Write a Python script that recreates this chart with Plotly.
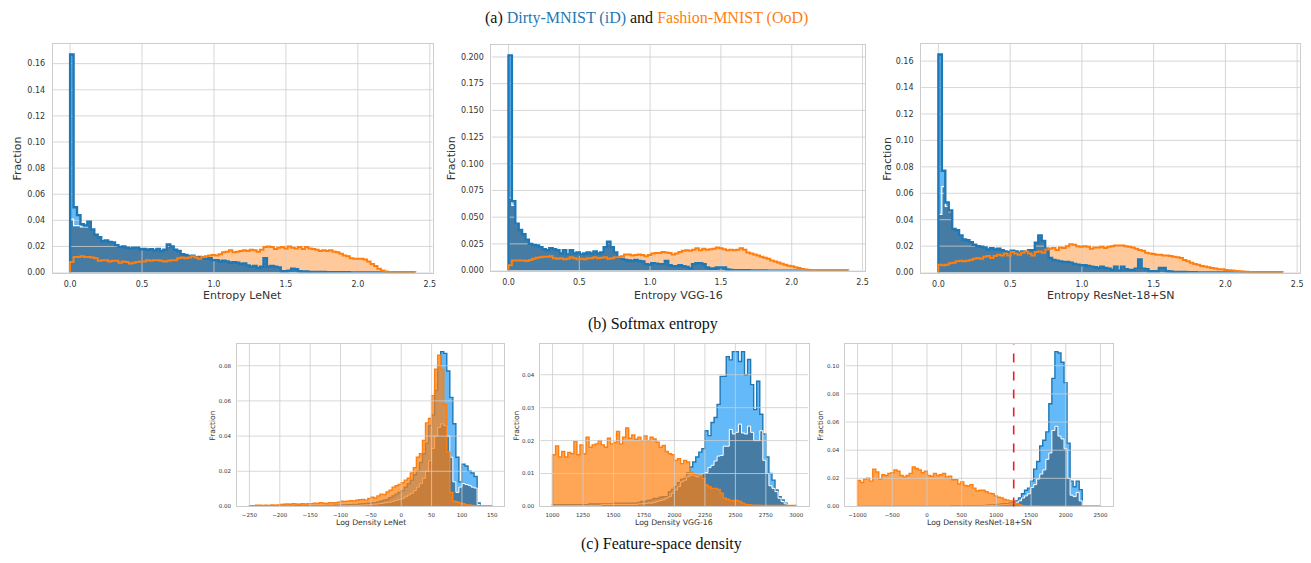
import plotly.graph_objects as go

W, H = 1311, 563

# ---------------- data: softmax entropy (bins of 0.024 from 0) ----------------
ent_start, ent_width = 0.0, 0.024

lenet_ent_id = [0.167, 0.050, 0.044, 0.037, 0.036, 0.039, 0.033, 0.029, 0.027, 0.024,
                0.0245, 0.0235, 0.023, 0.021, 0.0195, 0.020, 0.019, 0.0185, 0.019, 0.019,
                0.0178, 0.018, 0.0175, 0.0178, 0.017, 0.018, 0.0165, 0.0175, 0.0215, 0.020,
                0.0175, 0.0165, 0.014, 0.0135, 0.0125, 0.013, 0.0115, 0.012, 0.011, 0.0105,
                0.011, 0.0095, 0.0095, 0.0085, 0.009, 0.0085, 0.0075, 0.008, 0.0075, 0.0065,
                0.007, 0.0055, 0.0045, 0.005, 0.0035, 0.0045, 0.011, 0.0045, 0.005, 0.0045,
                0.004, 0.001, 0.001, 0.0015, 0.003, 0.0025, 0.001, 0.0008, 0.0008, 0.0005,
                0.0005, 0.0005, 0.0004, 0.0004, 0.0003, 0.0003, 0.0003, 0.0002, 0.0002, 0.0002,
                0.0002, 0.0001, 0, 0, 0, 0, 0, 0, 0, 0,
                0, 0, 0, 0, 0, 0, 0, 0, 0, 0]
lenet_ent_amb_head = [0.041, 0.036, 0.036, 0.035, 0.035]
lenet_ent_ood = [0.008, 0.012, 0.012, 0.0125, 0.012, 0.012, 0.0115, 0.011, 0.009, 0.0095,
                 0.0095, 0.0085, 0.009, 0.009, 0.0075, 0.0085, 0.008, 0.007, 0.0075, 0.008,
                 0.0085, 0.0085, 0.0095, 0.009, 0.0095, 0.0095, 0.009, 0.0085, 0.009, 0.0095,
                 0.0095, 0.011, 0.0115, 0.011, 0.0115, 0.0125, 0.0115, 0.0105, 0.012, 0.0125,
                 0.013, 0.0135, 0.013, 0.014, 0.0155, 0.016, 0.017, 0.0155, 0.016, 0.0165,
                 0.017, 0.0165, 0.0175, 0.017, 0.016, 0.0175, 0.0195, 0.020, 0.0195, 0.018,
                 0.019, 0.0195, 0.0185, 0.020, 0.019, 0.0185, 0.0195, 0.018, 0.0195, 0.0185,
                 0.018, 0.0175, 0.0165, 0.017, 0.0165, 0.017, 0.016, 0.0155, 0.0145, 0.013,
                 0.0125, 0.011, 0.0105, 0.0105, 0.0105, 0.010, 0.0085, 0.0065, 0.005, 0.003,
                 0.0015, 0.0008, 0.0005, 0.0003, 0.0003, 0.0003, 0.0003, 0.0003, 0.0003, 0.0003]

vgg_ent_id = [0.2015, 0.065, 0.044, 0.038, 0.034, 0.029, 0.025, 0.024, 0.0235, 0.022,
              0.020, 0.019, 0.021, 0.020, 0.019, 0.016, 0.019, 0.015, 0.019, 0.016,
              0.017, 0.015, 0.016, 0.017, 0.016, 0.018, 0.016, 0.017, 0.022, 0.027,
              0.022, 0.017, 0.012, 0.011, 0.010, 0.0095, 0.009, 0.010, 0.009, 0.0085,
              0.006, 0.0055, 0.007, 0.0065, 0.006, 0.006, 0.009, 0.005, 0.004, 0.004,
              0.005, 0.004, 0.0035, 0.002, 0.006, 0.007, 0.007, 0.006, 0.003, 0.002,
              0.002, 0.003, 0.003, 0.003, 0.001, 0.0005, 0.0003, 0.0003, 0.0003, 0.0003,
              0.0003, 0.0002, 0.0002, 0.0002, 0.0002, 0.0001, 0, 0, 0, 0,
              0, 0, 0, 0, 0, 0, 0, 0, 0, 0,
              0, 0, 0, 0, 0, 0, 0, 0, 0, 0]
vgg_ent_amb_head = [0.068, 0.061]
vgg_ent_ood = [0.005, 0.0095, 0.0095, 0.0095, 0.0095, 0.009, 0.010, 0.011, 0.012, 0.0125,
               0.013, 0.013, 0.0135, 0.0115, 0.011, 0.0115, 0.0105, 0.011, 0.0125, 0.0115,
               0.0105, 0.011, 0.0105, 0.0115, 0.0115, 0.0125, 0.0115, 0.012, 0.0125, 0.011,
               0.0115, 0.0125, 0.0125, 0.0135, 0.015, 0.015, 0.014, 0.0145, 0.015, 0.0145,
               0.0135, 0.0145, 0.016, 0.0165, 0.0165, 0.0175, 0.017, 0.0165, 0.015, 0.016,
               0.0175, 0.0185, 0.019, 0.0185, 0.0195, 0.021, 0.019, 0.0205, 0.0195, 0.020,
               0.0205, 0.0215, 0.021, 0.020, 0.019, 0.0195, 0.019, 0.0195, 0.021, 0.0195,
               0.017, 0.016, 0.015, 0.014, 0.013, 0.012, 0.011, 0.0095, 0.0085, 0.0075,
               0.0065, 0.0055, 0.0045, 0.004, 0.003, 0.0025, 0.0015, 0.001, 0.0006, 0.0004,
               0.0003, 0.0003, 0.0003, 0.0003, 0.0003, 0.0003, 0.0003, 0.0003, 0.0003, 0.0003]

resnet_ent_id = [0.165, 0.077, 0.053, 0.047, 0.033, 0.032, 0.028, 0.025, 0.0245, 0.023,
                 0.021, 0.020, 0.0195, 0.019, 0.0175, 0.0185, 0.0175, 0.018, 0.017, 0.016,
                 0.0155, 0.0165, 0.016, 0.015, 0.016, 0.0155, 0.017, 0.017, 0.0225, 0.028,
                 0.024, 0.018, 0.011, 0.0095, 0.009, 0.0085, 0.008, 0.008, 0.0075, 0.0065,
                 0.006, 0.0055, 0.0055, 0.005, 0.0045, 0.004, 0.0035, 0.0045, 0.0035, 0.003,
                 0.002, 0.0045, 0.0015, 0.0045, 0.0025, 0.002, 0.002, 0.003, 0.010, 0.003,
                 0.0025, 0.001, 0.001, 0.001, 0.0035, 0.0035, 0.001, 0.0008, 0.0005, 0.0005,
                 0.0005, 0.0004, 0.0003, 0.0002, 0.0002, 0.0001, 0, 0, 0, 0,
                 0, 0, 0, 0, 0, 0, 0, 0, 0, 0,
                 0, 0, 0, 0, 0, 0, 0, 0, 0, 0]
resnet_ent_amb_head = [0.044, 0.065, 0.050, 0.046, 0.033]
resnet_ent_ood = [0.006, 0.0055, 0.006, 0.007, 0.0075, 0.0085, 0.009, 0.0085, 0.009, 0.0095,
                  0.0105, 0.011, 0.0105, 0.012, 0.0125, 0.011, 0.0125, 0.0135, 0.013, 0.0145,
                  0.013, 0.0155, 0.0145, 0.0135, 0.015, 0.016, 0.0145, 0.013, 0.0155, 0.016,
                  0.015, 0.0175, 0.018, 0.0185, 0.017, 0.019, 0.0185, 0.020, 0.0215, 0.021,
                  0.020, 0.0195, 0.020, 0.0195, 0.018, 0.019, 0.019, 0.0195, 0.0185, 0.0195,
                  0.020, 0.0205, 0.0205, 0.0205, 0.020, 0.0195, 0.019, 0.018, 0.017, 0.0165,
                  0.015, 0.0145, 0.014, 0.0135, 0.0135, 0.013, 0.013, 0.0125, 0.012, 0.0115,
                  0.011, 0.0095, 0.0085, 0.0075, 0.0065, 0.006, 0.005, 0.0045, 0.004, 0.0035,
                  0.003, 0.0025, 0.0025, 0.002, 0.0018, 0.0015, 0.0012, 0.001, 0.0008, 0.0006,
                  0.0004, 0.0004, 0.0003, 0.0003, 0.0003, 0.0003, 0.0003, 0.0003, 0.0003, 0.0003]

# ---------------- data: feature-space log density ----------------
lenet_ld_start, lenet_ld_width = -250.0, 5.0
lenet_ld_ood = [0.0005, 0.0005, 0.0007, 0.0007, 0.0006, 0.0007, 0.0006, 0.0008, 0.0007, 0.0008,
                0.0012, 0.0013, 0.0014, 0.0013, 0.0015, 0.0014, 0.0013, 0.0015, 0.0014, 0.0016,
                0.0016, 0.0018, 0.0017, 0.0021, 0.0018, 0.0017, 0.0022, 0.0020, 0.0021, 0.0024,
                0.0030, 0.0028, 0.0030, 0.0033, 0.0031, 0.0035, 0.0038, 0.0040, 0.0036, 0.0045,
                0.0052, 0.0048, 0.0060, 0.0070, 0.0068, 0.0082, 0.0092, 0.0110, 0.0118, 0.0125,
                0.0135, 0.0150, 0.0160, 0.0190, 0.0220, 0.0280, 0.0300, 0.0375, 0.0475, 0.0500,
                0.063, 0.078, 0.086, 0.078, 0.058, 0.031, 0.008, 0.003, 0.0025, 0.002,
                0.0015, 0.001, 0.0008, 0.0006, 0.0005, 0.0004, 0.0003, 0.0003, 0.0003, 0.0003]
lenet_ld_id = [0, 0, 0, 0, 0, 0, 0, 0, 0, 0,
               0.0002, 0.0002, 0.0002, 0.0002, 0.0002, 0.0003, 0.0003, 0.0003, 0.0003, 0.0003,
               0.0004, 0.0004, 0.0005, 0.0005, 0.0005, 0.0006, 0.0006, 0.0006, 0.0007, 0.0007,
               0.0008, 0.0008, 0.001, 0.001, 0.0012, 0.0012, 0.0014, 0.0015, 0.0017, 0.0018,
               0.002, 0.0022, 0.0025, 0.003, 0.0035, 0.004, 0.005, 0.006, 0.007, 0.008,
               0.009, 0.011, 0.013, 0.015, 0.018, 0.020, 0.025, 0.030, 0.036, 0.046,
               0.052, 0.066, 0.080, 0.088, 0.087, 0.077, 0.062, 0.047, 0.028, 0.014,
               0.024, 0.023, 0.020, 0.019, 0.017, 0.002, 0, 0, 0, 0]
lenet_ld_amb = [0, 0, 0, 0, 0, 0, 0, 0, 0, 0,
                0, 0, 0, 0, 0, 0, 0, 0, 0, 0,
                0.0002, 0.0002, 0.0002, 0.0002, 0.0002, 0.0002, 0.0002, 0.0002, 0.0002, 0.0002,
                0.0004, 0.0004, 0.0005, 0.0005, 0.0006, 0.0006, 0.0007, 0.0008, 0.0009, 0.001,
                0.0012, 0.0013, 0.0015, 0.0017, 0.002, 0.0022, 0.0025, 0.003, 0.0035, 0.004,
                0.0045, 0.0055, 0.0065, 0.0075, 0.009, 0.011, 0.013, 0.016, 0.020, 0.026,
                0.033, 0.040, 0.045, 0.047, 0.046, 0.040, 0.028, 0.014, 0.008, 0.011,
                0.013, 0.0125, 0.012, 0.011, 0.0105, 0.001, 0, 0, 0, 0]

vgg_ld_start, vgg_ld_width = 1000.0, 25.0
vgg_ld_ood = [0.0157, 0.0184, 0.015, 0.0167, 0.015, 0.0164, 0.016, 0.0197, 0.0157, 0.0187,
              0.016, 0.021, 0.018, 0.0187, 0.019, 0.020, 0.0187, 0.018, 0.0207, 0.019,
              0.0194, 0.0228, 0.019, 0.021, 0.0238, 0.0207, 0.0217, 0.0204, 0.021, 0.020,
              0.0214, 0.020, 0.021, 0.0205, 0.0195, 0.018, 0.0185, 0.0167, 0.016, 0.0157,
              0.014, 0.0145, 0.013, 0.014, 0.0135, 0.0105, 0.0098, 0.0095, 0.0095, 0.0085,
              0.0065, 0.006, 0.0055, 0.0055, 0.0052, 0.004, 0.0026, 0.0022, 0.0018, 0.0018,
              0.0018, 0.0015, 0.001, 0.0006, 0.0005, 0.0004, 0.0004, 0.0004, 0.0003, 0.0003,
              0.0003, 0.0003, 0.0003, 0.0003, 0.0003, 0.0003, 0.0003, 0.0003, 0.0003, 0.0003]
vgg_ld_id = [0.0005, 0.0005, 0.0005, 0.0005, 0.0005, 0.0005, 0.0005, 0.0005, 0.0005, 0.0005,
             0.0005, 0.0005, 0.0008, 0.0008, 0.0008, 0.0008, 0.0008, 0.0008, 0.0008, 0.0008,
             0.001, 0.001, 0.001, 0.001, 0.001, 0.001, 0.001, 0.001, 0.0012, 0.0015,
             0.0015, 0.0018, 0.002, 0.0024, 0.0024, 0.0028, 0.003, 0.003, 0.0045, 0.0052,
             0.006, 0.0072, 0.0082, 0.0085, 0.0102, 0.012, 0.0135, 0.015, 0.0165, 0.0175,
             0.023, 0.0215, 0.0255, 0.027, 0.031, 0.0395, 0.0395, 0.0455, 0.0445, 0.047,
             0.047, 0.044, 0.047, 0.040, 0.0446, 0.037, 0.0294, 0.038, 0.028, 0.022,
             0.015, 0.010, 0.008, 0.005, 0.003, 0.002, 0.001, 0, 0, 0]
vgg_ld_amb = [0.0003, 0.0003, 0.0003, 0.0003, 0.0003, 0.0003, 0.0003, 0.0003, 0.0003, 0.0003,
              0.0003, 0.0003, 0.0003, 0.0003, 0.0003, 0.0003, 0.0006, 0.0006, 0.0006, 0.0006,
              0.0006, 0.0006, 0.0006, 0.0006, 0.0006, 0.0006, 0.0006, 0.0006, 0.0008, 0.0008,
              0.0009, 0.001, 0.001, 0.0012, 0.0015, 0.0018, 0.002, 0.0025, 0.003, 0.004,
              0.005, 0.006, 0.0075, 0.008, 0.009, 0.0095, 0.0095, 0.009, 0.0095, 0.010,
              0.0103, 0.0118, 0.0125, 0.0138, 0.0153, 0.0155, 0.0183, 0.0183, 0.0234, 0.022,
              0.0225, 0.025, 0.0223, 0.022, 0.0244, 0.0225, 0.020, 0.020, 0.023, 0.014,
              0.010, 0.0063, 0.0055, 0.0045, 0.0025, 0.0015, 0.0008, 0, 0, 0]

resnet_ld_start, resnet_ld_width = -1000.0, 43.75
resnet_ld_ood = [0.0185, 0.017, 0.0195, 0.020, 0.018, 0.0265, 0.0245, 0.0195, 0.0225, 0.022,
                 0.0235, 0.024, 0.026, 0.025, 0.022, 0.021, 0.022, 0.0235, 0.028, 0.027,
                 0.026, 0.024, 0.025, 0.022, 0.0215, 0.0235, 0.022, 0.0225, 0.0235, 0.021,
                 0.0215, 0.019, 0.019, 0.016, 0.0175, 0.015, 0.0145, 0.0155, 0.013, 0.011,
                 0.0115, 0.0115, 0.0105, 0.0095, 0.009, 0.0075, 0.0065, 0.006, 0.005, 0.0045,
                 0.004, 0.0035, 0.002, 0.0012, 0.0006, 0.0003, 0.0003, 0.0003, 0.0003, 0.0003,
                 0.0002, 0.0002, 0.0002, 0.0002, 0.0002, 0.0002, 0.0002, 0.0002, 0.0002, 0.0002,
                 0.0002, 0.0002, 0.0002, 0.0002, 0.0002, 0.0002, 0.0002, 0.0002, 0.0002, 0.0002]
resnet_ld_id = [0, 0, 0, 0, 0, 0, 0, 0, 0, 0,
                0, 0, 0, 0, 0, 0, 0, 0, 0, 0,
                0, 0, 0, 0, 0, 0, 0, 0, 0, 0,
                0, 0.0003, 0.0003, 0.0003, 0.0003, 0.0003, 0.0003, 0.0003, 0.0003, 0.0003,
                0.0003, 0.0006, 0.0008, 0.001, 0.001, 0.0012, 0.0015, 0.0018, 0.002, 0.002,
                0.0025, 0.003, 0.004, 0.006, 0.009, 0.0115, 0.013, 0.018, 0.0265, 0.032,
                0.043, 0.047, 0.053, 0.073, 0.091, 0.110, 0.109, 0.1025, 0.088, 0.045,
                0.018, 0.014, 0.018, 0.012, 0, 0, 0, 0, 0, 0]
resnet_ld_amb = [0, 0, 0, 0, 0, 0, 0, 0, 0, 0,
                 0, 0, 0, 0, 0, 0, 0, 0, 0, 0,
                 0, 0, 0, 0, 0, 0, 0, 0, 0, 0,
                 0, 0.0002, 0.0002, 0.0002, 0.0002, 0.0002, 0.0002, 0.0002, 0.0002, 0.0002,
                 0.0002, 0.0004, 0.0005, 0.0006, 0.0007, 0.0008, 0.001, 0.0012, 0.0014, 0.0015,
                 0.0017, 0.002, 0.003, 0.004, 0.006, 0.0075, 0.009, 0.0135, 0.0155, 0.0195,
                 0.023, 0.026, 0.0335, 0.038, 0.054, 0.057, 0.050, 0.048, 0.041, 0.020,
                 0.008, 0.007, 0.010, 0.004, 0, 0, 0, 0, 0, 0]
resnet_threshold = 1250

# ---------------- styling ----------------
BLUE = '#1f77b4'
ORANGE = '#ff7f0e'
LIGHT_BLUE = 'rgb(100,186,248)'
DARK_FILL = 'rgb(70,124,164)'
ORANGE_LIGHT = 'rgb(255,201,156)'
ORANGE_ALPHA = 'rgba(255,127,14,0.70)'
GRID = 'rgba(205,205,205,0.8)'
SANS = 'DejaVu Sans'
SERIF = 'Liberation Serif'

fig = go.Figure()


def step_xy(start, width, vals):
    n = len(vals)
    edges = [start + width * i for i in range(n + 1)]
    xs = [edges[0]] + edges[:n] + [edges[n], edges[n]]
    ys = [0] + list(vals) + [vals[-1], 0]
    return xs, ys


def add_step(k, start, width, vals, line_color, line_width, fill=None):
    xs, ys = step_xy(start, width, vals)
    fig.add_trace(go.Scatter(
        x=xs, y=ys, mode='lines', xaxis='x' + k, yaxis='y' + k,
        line=dict(shape='hv', color=line_color, width=line_width),
        fill='tozeroy' if fill else None, fillcolor=fill,
        hoverinfo='skip', showlegend=False))


def add_grid(k, xticks, yticks, xr, yr):
    gx, gy = [], []
    for v in xticks:
        gx += [v, v, None]
        gy += [yr[0], yr[1], None]
    for v in yticks:
        gx += [xr[0], xr[1], None]
        gy += [v, v, None]
    fig.add_trace(go.Scatter(x=gx, y=gy, mode='lines', xaxis='x' + k, yaxis='y' + k,
                             line=dict(color=GRID, width=1), hoverinfo='skip', showlegend=False))


def margins(start, width, n):
    lo, hi = start, start + width * n
    pad = 0.05 * (hi - lo)
    return [lo - pad, hi + pad]


def fmt_num(v, nd):
    s = f"{v:.{nd}f}"
    return s.replace('-', '\u2212')


def setup_axes(k, px_box, xr, yr, xticks, xdec, yticks, ydec, fs, ticklen_x, ticklen_y):
    x0, x1, y0, y1 = px_box
    common = dict(showgrid=False, zeroline=False, showline=True, mirror=True,
                  linecolor='#cccccc', linewidth=1.2, ticks='outside',
                  tickcolor='rgba(0,0,0,0)', fixedrange=True,
                  tickfont=dict(family=SANS, size=fs, color='#333333'))
    xname = 'xaxis' + ('' if k == '' else k)
    yname = 'yaxis' + ('' if k == '' else k)
    fig.layout[xname] = dict(common, domain=[x0 / W, x1 / W], range=xr, anchor='y' + k,
                             tickvals=xticks, ticktext=[fmt_num(v, xdec) for v in xticks],
                             ticklen=ticklen_x)
    fig.layout[yname] = dict(common, domain=[1 - y1 / H, 1 - y0 / H], range=yr, anchor='x' + k,
                             tickvals=yticks, ticktext=[fmt_num(v, ydec) for v in yticks],
                             ticklen=ticklen_y)


# ---------------- top row: softmax entropy ----------------
top_panels = [
    ('', (53, 434, 44, 275), lenet_ent_id, lenet_ent_amb_head, lenet_ent_ood,
     [0.02 * i for i in range(9)], 2, 'Entropy LeNet', 18),
    ('2', (493, 868, 45, 273), vgg_ent_id, vgg_ent_amb_head, vgg_ent_ood,
     [0.025 * i for i in range(9)], 3, 'Entropy VGG-16', 453),
    ('3', (924, 1304, 44, 275), resnet_ent_id, resnet_ent_amb_head, resnet_ent_ood,
     [0.02 * i for i in range(9)], 2, 'Entropy ResNet-18+SN', 890),
]
ent_xticks = [0.0, 0.5, 1.0, 1.5, 2.0, 2.5]
annotations = []
for k, box, tot, head, ood, yt, ydec, xtitle, fx in top_panels:
    amb = head + tot[len(head):]
    n = len(tot)
    xr = margins(ent_start, ent_width, n)
    yr = [0, 1.05 * max(max(tot), max(ood))]
    add_step(k, ent_start, ent_width, ood, ORANGE_LIGHT, 0, ORANGE_LIGHT)
    add_step(k, ent_start, ent_width, tot, LIGHT_BLUE, 0, LIGHT_BLUE)
    add_step(k, ent_start, ent_width, amb, DARK_FILL, 0, DARK_FILL)
    add_grid(k, ent_xticks, yt, xr, yr)
    add_step(k, ent_start, ent_width, amb, 'white', 1.2)
    add_step(k, ent_start, ent_width, tot, BLUE, 2.4)
    add_step(k, ent_start, ent_width, ood, ORANGE, 2.0)
    setup_axes(k, box, xr, yr, ent_xticks, 1, yt, ydec, 8, 4, 5)
    annotations.append(dict(text=xtitle, x=(box[0] + box[1]) / 2 / W, y=1 - 298 / H,
                            font=dict(family=SANS, size=11, color='#333333')))
    annotations.append(dict(text='Fraction', x=fx / W, y=1 - 160 / H, textangle=-90,
                            font=dict(family=SANS, size=11, color='#333333')))

# ---------------- bottom row: log density ----------------
bot_panels = [
    ('4', (238, 506, 347, 511), lenet_ld_start, lenet_ld_width, lenet_ld_id, lenet_ld_amb, lenet_ld_ood,
     [-250, -200, -150, -100, -50, 0, 50, 100, 150], [0.0, 0.02, 0.04, 0.06, 0.08],
     'Log Density LeNet', 213),
    ('5', (542, 811, 347, 511), vgg_ld_start, vgg_ld_width, vgg_ld_id, vgg_ld_amb, vgg_ld_ood,
     [1000, 1250, 1500, 1750, 2000, 2250, 2500, 2750, 3000], [0.0, 0.01, 0.02, 0.03, 0.04],
     'Log Density VGG-16', 518),
    ('6', (848, 1116, 347, 511), resnet_ld_start, resnet_ld_width, resnet_ld_id, resnet_ld_amb, resnet_ld_ood,
     [-1000, -500, 0, 500, 1000, 1500, 2000, 2500], [0.0, 0.02, 0.04, 0.06, 0.08, 0.10],
     'Log Density ResNet-18+SN', 823),
]
shapes = []
for k, box, st, wd, tot, amb, ood, xt, yt, xtitle, fx in bot_panels:
    n = len(tot)
    xr = margins(st, wd, n)
    yr = [0, 1.05 * max(max(tot), max(ood))]
    add_step(k, st, wd, tot, BLUE, 1.4, LIGHT_BLUE)
    add_step(k, st, wd, amb, 'white', 1.0, DARK_FILL)
    add_step(k, st, wd, ood, ORANGE, 1.4, ORANGE_ALPHA)
    add_grid(k, xt, yt, xr, yr)
    setup_axes(k, box, xr, yr, xt, 0, yt, 2, 5.5, 3, 4)
    annotations.append(dict(text=xtitle, x=(box[0] + box[1]) / 2 / W, y=1 - 527 / H,
                            font=dict(family=SANS, size=7.7, color='#333333')))
    annotations.append(dict(text='Fraction', x=fx / W, y=1 - 429 / H, textangle=-90,
                            font=dict(family=SANS, size=7.5, color='#333333')))

shapes.append(dict(type='line', xref='x6', yref='y6 domain', x0=resnet_threshold, x1=resnet_threshold,
                   y0=0, y1=1, line=dict(color='#ee1c25', width=1.6, dash='dash'), layer='above'))

# ---------------- captions ----------------
annotations.append(dict(
    text="(a) <span style='color:#1f77b4'>Dirty-MNIST (iD)</span> and "
         "<span style='color:#ff7f0e'>Fashion-MNIST (OoD)</span>",
    x=648 / W, y=1 - 18 / H, font=dict(family=SERIF, size=16, color='#111111')))
annotations.append(dict(text='(b) Softmax entropy', x=655 / W, y=1 - 327 / H,
                        font=dict(family=SERIF, size=16, color='#111111')))
annotations.append(dict(text='(c) Feature-space density', x=664 / W, y=1 - 549 / H,
                        font=dict(family=SERIF, size=16, color='#111111')))

for a in annotations:
    a.update(xref='paper', yref='paper', showarrow=False, xanchor='center', yanchor='middle')

fig.update_layout(width=W, height=H, margin=dict(l=0, r=0, t=0, b=0),
                  paper_bgcolor='white', plot_bgcolor='white',
                  annotations=annotations, shapes=shapes, showlegend=False)

fig.write_html("out.html", config={'displayModeBar': False},
               post_script="document.body.style.margin='0';document.body.style.overflow='hidden';")
